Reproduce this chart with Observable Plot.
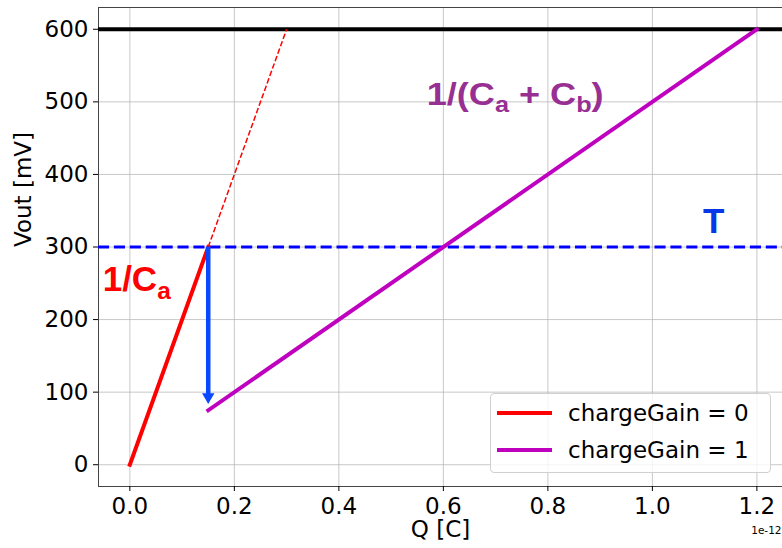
<!DOCTYPE html>
<html><head><meta charset="utf-8">
<script src="https://cdn.jsdelivr.net/npm/d3@7"></script>
<script src="https://cdn.jsdelivr.net/npm/@observablehq/plot@0.6"></script>
<style>
html,body{margin:0;padding:0;background:#fff;overflow:hidden}
#wrap{position:relative;width:782px;height:548px}
#legend{position:absolute;left:490px;top:393px;width:281px;height:80px;border:1px solid #d0d0d0;border-radius:4px;background:rgba(255,255,255,0.8);font-family:"DejaVu Sans";font-size:23px;color:#000;box-sizing:border-box}
.row{position:absolute;left:0;height:30px;display:flex;align-items:center;white-space:nowrap}
.sw{width:55px;height:4px;margin-left:6px;margin-right:16px}
</style></head><body><div id="wrap"><div id="legend"></div></div>
<script>
// ---- data (Q in units of 1e-12 C, Vout in mV) ----
const xTicks = [0, 0.2, 0.4, 0.6, 0.8, 1.0, 1.2];
const xTickLabels = ["0.0", "0.2", "0.4", "0.6", "0.8", "1.0", "1.2"];
const yTicks = [0, 100, 200, 300, 400, 500, 600];
const yTickLabels = ["0", "100", "200", "300", "400", "500", "600"];

const seriesNames = ["chargeGain = 0", "chargeGain = 1"];
const gain0Q = [0, 0.15];
const gain0V = [0, 300];
const gain1Q = [0.15, 1.2];
const gain1V = [75, 600];
const extrapQ = [0.15, 0.3];
const extrapV = [300, 600];
const saturationV = [600];
const thresholdV = [300];
const arrowQ = [0.15];
const arrowFromV = [300];
const arrowToV = [84];

const annotText = ["1/C_a", "1/(C_a + C_b)", "T"];
const annotQ = [-0.052, 0.568, 1.097];
const annotV = [240, 496, 319];

const offsetText = ["1e-12"];
const xLabel = ["Q [C]"];
const yLabel = ["Vout [mV]"];

// ---- helpers ----
const pts = (xs, ys) => xs.map((x, i) => ({x, y: ys[i]}));
const arrowData = arrowQ.map((q, i) => ({q, v1: arrowFromV[i], v2: arrowToV[i]}));
const annot = annotText.map((t, i) => ({t, x: annotQ[i], y: annotV[i]}));

const red = "#ff0000", purple = "#bf00bf";
const colors = [red, purple];

const grid = {stroke: "#b0b0b0", strokeOpacity: 0.7, strokeWidth: 1};
const plot = Plot.plot({
  width: 782, height: 548,
  marginLeft: 98, marginRight: 0, marginTop: 7, marginBottom: 62,
  style: {fontFamily: "DejaVu Sans", fontSize: "23px", color: "#000", background: "transparent"},
  x: {domain: [-0.06, 1.249]},
  y: {domain: [-30, 630]},
  marks: [
    Plot.gridX(xTicks, grid),
    Plot.gridY(yTicks, grid),
    Plot.frame({anchor: "left", stroke: "#444"}),
    Plot.frame({anchor: "top", stroke: "#444"}),
    Plot.frame({anchor: "bottom", stroke: "#444"}),
    Plot.axisX(xTicks, {tickSize: 5, tickPadding: 6, label: null, tickFormat: d => xTickLabels[xTicks.indexOf(d)]}),
    Plot.axisY(yTicks, {tickSize: 5, tickPadding: 5, label: null, tickFormat: d => yTickLabels[yTicks.indexOf(d)]}),
    Plot.text(xLabel, {frameAnchor: "bottom", dy: 50, lineAnchor: "bottom", text: d => d, fontSize: 23}),
    Plot.text(yLabel, {frameAnchor: "left", dx: -75, rotate: -90, text: d => d, fontSize: 23}),
    Plot.text(offsetText, {frameAnchor: "bottom-right", dx: -1, dy: 47, lineAnchor: "bottom", textAnchor: "end", text: d => d, fontSize: 10.5}),
    Plot.ruleY(saturationV, {stroke: "#000", strokeWidth: 4}),
    Plot.ruleY(thresholdV, {stroke: "#0000ff", strokeWidth: 3, strokeDasharray: "11.1,4.8"}),
    Plot.line(pts(extrapQ, extrapV), {x: "x", y: "y", stroke: red, strokeWidth: 1.5, strokeDasharray: "5.5,2.4", strokeLinecap: "butt"}),
    Plot.line(pts(gain0Q, gain0V), {x: "x", y: "y", stroke: red, strokeWidth: 4, strokeLinecap: "square"}),
    Plot.line(pts(gain1Q, gain1V), {x: "x", y: "y", stroke: purple, strokeWidth: 4, strokeLinecap: "square"}),
    Plot.ruleX(arrowData, {x: "q", y1: "v1", y2: "v2", stroke: "#0a48ff", strokeWidth: 4.5, insetBottom: 9}),
    Plot.dot(arrowData, {x: "q", y: "v2", symbol: "triangle", r: 4.6, rotate: 180, dy: -7, fill: "#0a48ff", stroke: "none"}),
    Plot.text([annot[0]], {x: "x", y: "y", text: "t", textAnchor: "start", lineAnchor: "bottom", fill: red, fontSize: 35, fontWeight: "bold", fontFamily: "Liberation Sans"}),
    Plot.text([annot[1]], {x: "x", y: "y", text: "t", textAnchor: "start", lineAnchor: "bottom", fill: "#982f93", fontSize: 31, fontWeight: "bold", fontFamily: "Liberation Sans"}),
    Plot.text([annot[2]], {x: "x", y: "y", text: "t", textAnchor: "start", lineAnchor: "bottom", fill: "#0638e8", fontSize: 35, fontWeight: "bold", fontFamily: "Liberation Sans"})
  ]
});
const wrap = document.getElementById("wrap");
wrap.insertBefore(plot, wrap.firstChild);

// subscripts: "X_a" -> X with subscript a
d3.select(plot).selectAll("text").each(function () {
  const t = this.textContent;
  if (!t.includes("_")) return;
  const fs = parseFloat(getComputedStyle(this).fontSize);
  const parts = t.split(/_(\w)/);
  this.textContent = "";
  let shifted = false;
  parts.forEach((p, i) => {
    if (!p) return;
    const ts = document.createElementNS("http://www.w3.org/2000/svg", "tspan");
    ts.textContent = p;
    if (i % 2 === 1) { ts.setAttribute("font-size", fs * 0.7); ts.setAttribute("dy", fs * 0.24); shifted = true; }
    else if (shifted) { ts.setAttribute("dy", -fs * 0.24); shifted = false; }
    this.appendChild(ts);
  });
  if (t.includes("+")) { this.setAttribute("textLength", 177); this.setAttribute("lengthAdjust", "spacingAndGlyphs"); }
});

// legend
const lg = d3.select("#legend");
seriesNames.forEach((name, i) => {
  const row = lg.append("div").attr("class", "row").style("top", (4 + i * 36.5) + "px");
  row.append("div").attr("class", "sw").style("background", colors[i]);
  row.append("span").text(name);
});
</script>
</body></html>
